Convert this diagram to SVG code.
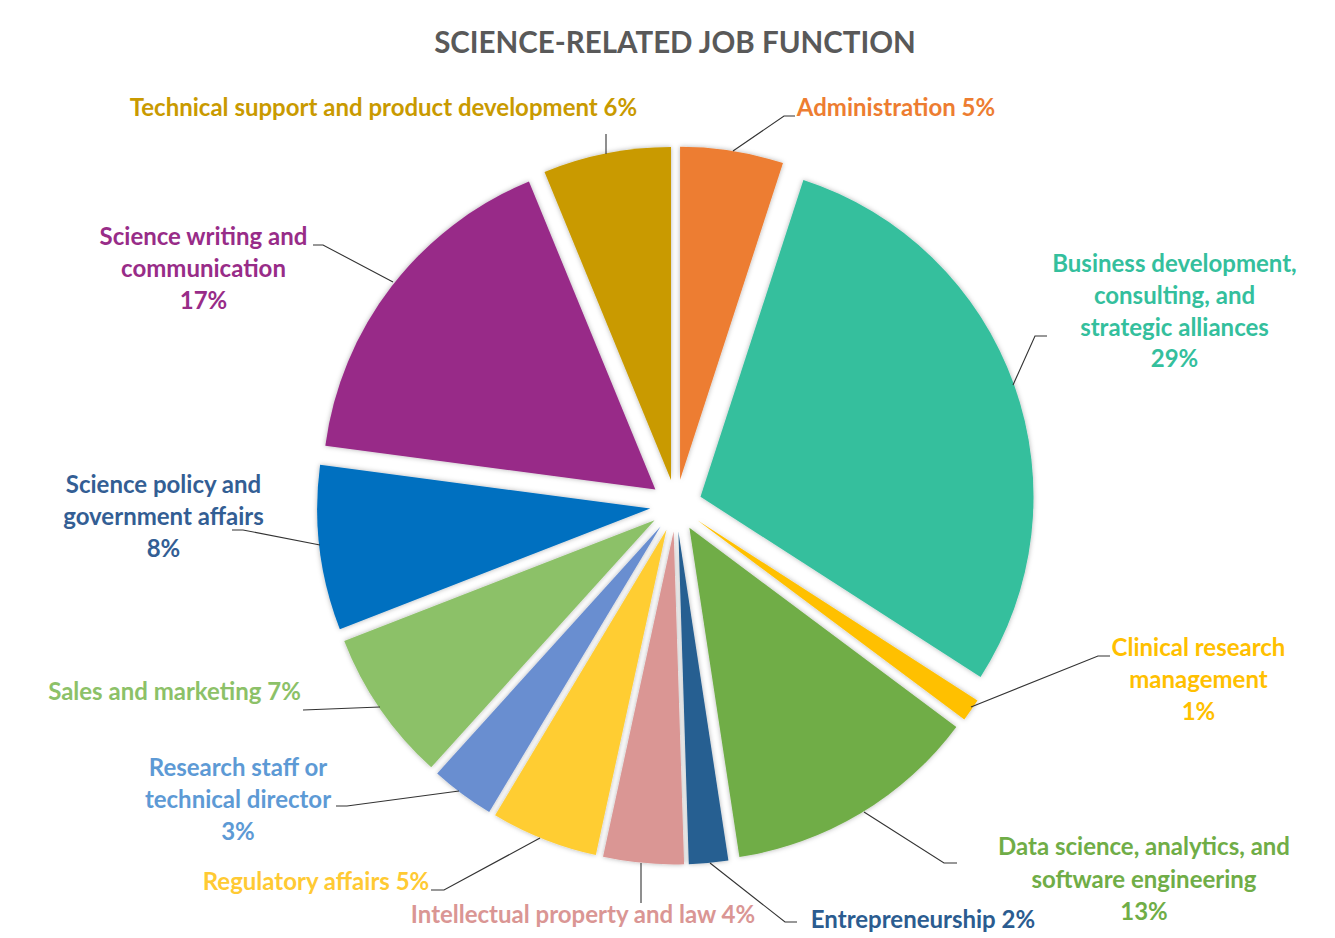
<svg xmlns="http://www.w3.org/2000/svg" width="1335" height="938" viewBox="0 0 1335 938">
<defs>
<filter id="sh" x="-10%" y="-10%" width="120%" height="120%">
<feDropShadow dx="0" dy="0" stdDeviation="2.5" flood-color="#000" flood-opacity="0.3"/>
</filter>
</defs>
<style>
.lbl{font-family:Lato,"Open Sans","Liberation Sans",sans-serif;font-weight:bold;font-size:24px;text-anchor:middle}
.title{font-family:Lato,"Open Sans","Liberation Sans",sans-serif;font-weight:bold;font-size:29.5px;fill:#595959;text-anchor:middle}
.lead{fill:none;stroke:#333;stroke-width:1.1}
</style>
<rect width="1335" height="938" fill="#fff"/>
<text class="title" x="675" y="53">SCIENCE-RELATED JOB FUNCTION</text>
<g id="slices" filter="url(#sh)">
<g id="admin"><path d="M680.07,479.82 L680.07,146.82 A333,333 0 0 1 782.97,163.12 Z" fill="#ED7D31"/></g>
<g id="business"><path d="M700.49,496.77 L803.39,180.07 A333,333 0 0 1 980.56,676.96 Z" fill="#34BF9D"/></g>
<g id="clinical"><path d="M697.36,520.32 L977.43,700.51 A333,333 0 0 1 964.30,719.40 Z" fill="#FFC000"/></g>
<g id="data"><path d="M689.38,527.80 L956.32,726.88 A333,333 0 0 1 739.41,857.02 Z" fill="#70AD47"/></g>
<g id="entre"><path d="M678.37,531.39 L728.40,860.61 A333,333 0 0 1 688.83,864.23 Z" fill="#255E91"/></g>
<g id="ip"><path d="M673.63,531.39 L684.09,864.23 A333,333 0 0 1 603.03,856.82 Z" fill="#DA9694"/></g>
<g id="reg"><path d="M666.43,529.67 L595.83,855.10 A333,333 0 0 1 495.12,815.23 Z" fill="#FFCD33"/></g>
<g id="research"><path d="M660.52,526.39 L489.21,811.95 A333,333 0 0 1 437.18,773.39 Z" fill="#698ED0"/></g>
<g id="sales"><path d="M654.59,520.25 L431.25,767.25 A333,333 0 0 1 344.22,640.89 Z" fill="#8CC168"/></g>
<g id="policy"><path d="M650.19,508.60 L339.82,629.24 A333,333 0 0 1 320.08,464.79 Z" fill="#0070C0"/></g>
<g id="writing"><path d="M655.41,489.62 L325.30,445.81 A333,333 0 0 1 528.95,181.57 Z" fill="#982C88"/></g>
<g id="tech"><path d="M670.97,479.99 L544.51,171.94 A333,333 0 0 1 670.97,146.99 Z" fill="#C99A00"/></g>
</g>
<g id="connectors">
<path class="lead" d="M606,134 L606,154"/>
<path class="lead" d="M795,116 L784,116 L733,151"/>
<path class="lead" d="M1047,336 L1035,336 L1013,385"/>
<path class="lead" d="M1110,656 L1098,656 L971,707"/>
<path class="lead" d="M957,863 L944,863 L864,812"/>
<path class="lead" d="M797,922 L785,922 L710,863"/>
<path class="lead" d="M641,903 L641,863"/>
<path class="lead" d="M431,890 L444,890 L540,838"/>
<path class="lead" d="M336,806 L347,806 L459,791"/>
<path class="lead" d="M303,710 L380,707"/>
<path class="lead" d="M232,530 L243,530 L320,545"/>
<path class="lead" d="M313,245 L323,245 L393,282"/>
</g>
<g id="labels">
<g id="lbl-tech"><text class="lbl" fill="#C99A00" x="383.5" y="116">Technical support and product development 6%</text></g>
<g id="lbl-admin"><text class="lbl" fill="#ED7D31" x="896" y="116">Administration 5%</text></g>
<g id="lbl-business" fill="#34BF9D"><text class="lbl" x="1174.5" y="272">Business development,</text><text class="lbl" x="1174.5" y="304">consulting, and</text><text class="lbl" x="1174.5" y="336">strategic alliances</text><text class="lbl" x="1174.5" y="367">29%</text></g>
<g id="lbl-clinical" fill="#FFC000"><text class="lbl" x="1198.5" y="656">Clinical research</text><text class="lbl" x="1198.5" y="688">management</text><text class="lbl" x="1198.5" y="720">1%</text></g>
<g id="lbl-data" fill="#70AD47"><text class="lbl" x="1144" y="855">Data science, analytics, and</text><text class="lbl" x="1144" y="888">software engineering</text><text class="lbl" x="1144" y="920">13%</text></g>
<g id="lbl-entre"><text class="lbl" fill="#2B5C90" x="923" y="928">Entrepreneurship 2%</text></g>
<g id="lbl-ip"><text class="lbl" fill="#DA9694" x="583" y="923">Intellectual property and law 4%</text></g>
<g id="lbl-reg"><text class="lbl" fill="#FFCA33" x="316" y="890">Regulatory affairs 5%</text></g>
<g id="lbl-research" fill="#5D9AD5"><text class="lbl" x="238" y="776">Research staff or</text><text class="lbl" x="238" y="808">technical director</text><text class="lbl" x="238" y="840">3%</text></g>
<g id="lbl-sales"><text class="lbl" fill="#8CC168" x="174.5" y="700">Sales and marketing 7%</text></g>
<g id="lbl-policy" fill="#335E94"><text class="lbl" x="163.5" y="493">Science policy and</text><text class="lbl" x="163.5" y="525">government affairs</text><text class="lbl" x="163.5" y="557">8%</text></g>
<g id="lbl-writing" fill="#982C88"><text class="lbl" x="203.5" y="245">Science writing and</text><text class="lbl" x="203.5" y="277">communication</text><text class="lbl" x="203.5" y="309">17%</text></g>
</g>
</svg>
